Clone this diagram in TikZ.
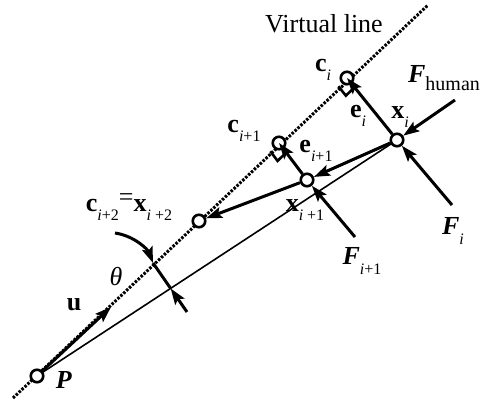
\documentclass[tikz,border=0pt]{standalone}
\usepackage{fontspec}
\setmainfont{Liberation Serif}
\usetikzlibrary{arrows.meta,calc}
\newcommand{\sbs}[1]{\raisebox{-0.35em}{\fontsize{16}{16}\selectfont\mdseries #1}}
\begin{document}
\begin{tikzpicture}[x=1pt,y=-1pt,
  pt/.style={circle,draw,fill=white,line width=2.6pt,minimum size=12.5pt,inner sep=0pt},
  arr/.style={line width=3pt,-{Stealth[length=16pt,width=11pt,inset=3pt]}},
  vline/.style={line width=3pt,dash pattern=on 2.5pt off 1.5pt},
  thin/.style={line width=1.6pt},
  lbl/.style={font=\fontsize{26}{26}\selectfont,inner sep=0pt},
  ]
\useasboundingbox (0,0) rectangle (483,401);
% coordinates
\coordinate (vb) at (13,398);
\coordinate (vt) at (428,5);
\coordinate (Pc) at (37,376);
\coordinate (xc) at (397,140);
\coordinate (tv) at (153,263);
\coordinate (tb) at (187,312);
\coordinate (ta) at (115,233);
\coordinate (ue) at (111,307);
\coordinate (fh) at (455,100);
\coordinate (fi) at (452,205);
\coordinate (fi1) at (355,237);
% virtual line and thin line
\draw[vline] (vb) -- (vt);
\draw[thin] (Pc) -- (xc);
% points
\node[pt] (P) at (Pc) {};
\node[pt] (ci) at (347,78) {};
\node[pt] (ci1) at (279,143) {};
\node[pt] (ci2) at (199,221) {};
\node[pt] (xi) at (xc) {};
\node[pt] (xi1) at (307,180) {};
% right-angle marks
\coordinate (a1) at ($(ci)!12pt!(vb)$);
\coordinate (a2) at ($(ci)!12pt!(xi)$);
\coordinate (a3) at ($(a1)+(a2)-(ci)$);
\draw[line width=2.6pt] (a1) -- (a3) -- (a2);
\coordinate (b1) at ($(ci1)!12pt!(vb)$);
\coordinate (b2) at ($(ci1)!12pt!(xi1)$);
\coordinate (b3) at ($(b1)+(b2)-(ci1)$);
\draw[line width=2.6pt] (b1) -- (b3) -- (b2);
% vectors
\draw[arr] (xi) -- (ci.center);
\draw[arr] (xi1) -- (ci1.center);
\draw[arr] (xi) -- (xi1);
\draw[arr] (xi1) -- (ci2);
\draw[arr] (fh) -- (xi);
\draw[arr] (fi) -- (xi);
\draw[arr] (fi1) -- (xi1);
\draw[arr] (P) -- (ue);
% theta marker
\draw[arr] (ta) .. controls (135,236) and (148,250) .. (tv);
\coordinate (tt) at (intersection of tv--tb and Pc--xc);
\draw[line width=3pt] (tv) -- (tt);
\draw[arr] (tb) -- (tt);
% labels
\node[lbl] (lv) at (324,24) {Virtual line};
\node[lbl] (lci) at (323,70) {\bfseries c\sbs{\textit{i}}};
\node[lbl] (lci1) at (244,131) {\bfseries c\sbs{\textit{i}+1}};
\node[lbl] (lei) at (358,116) {\bfseries e\sbs{\textit{i}}};
\node[lbl] (lei1) at (316,151) {\bfseries e\sbs{\textit{i}+1}};
\node[lbl] (lxi) at (400,117) {\bfseries x\sbs{\textit{i}}};
\node[lbl] (lfh) at (444,78) {\textbf{\textit{F}}\raisebox{-0.3em}{\fontsize{20}{20}\selectfont human}};
\node[lbl] (lfi) at (453,231) {\textbf{\textit{F}}\sbs{\textit{i}}};
\node[lbl] (lxi1) at (305,210) {\bfseries x\sbs{\textit{i} +1}};
\node[lbl] (lfi1) at (362,261) {\textbf{\textit{F}}\sbs{\textit{i}+1}};
\node[lbl] (lc2) at (129,207) {\textbf{c}\sbs{\textit{i}+2}\raisebox{0.25em}{=}\textbf{x}\sbs{\textit{i} +2}};
\node[lbl] (lth) at (116,277) {\textit{θ}};
\node[lbl] (lu) at (74,305) {\textbf{u}};
\node[lbl] (lp) at (64,380) {\textbf{\textit{P}}};
\end{tikzpicture}
\end{document}
